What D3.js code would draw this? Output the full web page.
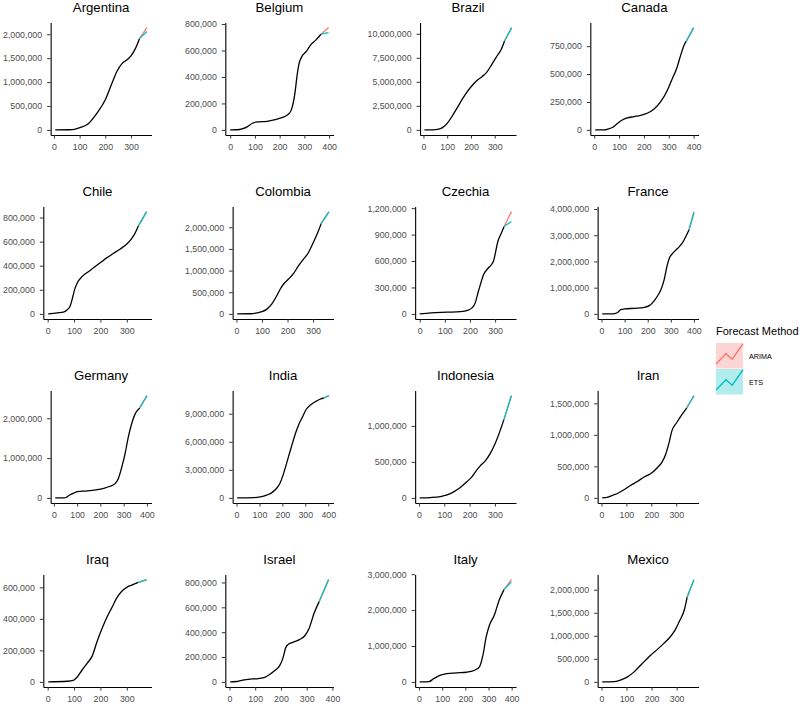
<!DOCTYPE html>
<html><head><meta charset="utf-8">
<script src="https://cdn.jsdelivr.net/npm/d3@7"></script>
<style>body{margin:0;background:#fff}svg{display:block}text{font-family:"Liberation Sans",Arial,sans-serif}</style>
</head><body><svg id="c" width="800" height="704"></svg>
<script>
const countries = ["Argentina","Belgium","Brazil","Canada","Chile","Colombia","Czechia","France",
  "Germany","India","Indonesia","Iran","Iraq","Israel","Italy","Mexico"];

// [day, cumulative cases in thousands]
const histArgentina = [[5,0],[60,3],[80,12],[101,45],[131,118],[169,362],[201,641],[227,990],[246,1233],[265,1387],[282,1456],[300,1547],[317,1700],[333,1909]];
const histBelgium = [[0,0],[30,1],[44,5],[70,25],[90,50],[110,60],[149,65],[182,78],[209,93],[235,118],[248,155],[262,280],[271,418],[279,505],[288,548],[308,593],[328,648],[347,680],[367,723]];
const histBrazil = [[4,0],[40,10],[59,60],[80,240],[100,685],[121,1438],[142,2295],[162,3151],[183,3939],[204,4590],[224,5103],[245,5514],[265,5960],[286,6747],[307,7604],[327,8357],[341,9248]];
const histCanada = [[4,0],[40,1],[53,6],[73,21],[93,57],[113,89],[133,107],[160,119],[187,131],[213,149],[240,185],[267,250],[293,348],[313,452],[333,557],[349,676],[363,765],[371,795]];
const histChile = [[2,0],[37,8],[62,16],[75,36],[85,63],[94,132],[102,201],[112,256],[131,311],[150,344],[175,385],[200,426],[225,467],[250,503],[275,539],[300,580],[319,627],[331,668],[344,731]];
const histColombia = [[3,0],[54,3],[80,21],[100,50],[119,110],[138,226],[158,418],[171,570],[184,684],[203,799],[223,928],[242,1103],[261,1255],[281,1407],[300,1635],[320,1901],[332,2091]];
const histCzechia = [[0,0],[45,11],[110,19],[162,26],[190,40],[208,68],[221,125],[230,219],[241,330],[254,445],[273,521],[293,595],[312,830],[325,917],[336,992]];
const histFrance = [[3,0],[45,1],[57,14],[71,63],[83,164],[100,189],[143,214],[186,252],[207,314],[226,478],[243,692],[257,918],[271,1296],[283,1799],[293,2113],[307,2302],[329,2491],[350,2705],[364,2931],[379,3208]];
const histGermany = [[6,0],[45,2],[52,10],[66,67],[87,125],[101,158],[144,175],[186,208],[214,242],[242,292],[263,358],[277,483],[292,775],[306,1108],[320,1525],[334,1858],[348,2092],[369,2258]];
const histIndia = [[3,0],[74,36],[103,108],[131,287],[153,538],[174,1004],[189,1541],[203,2437],[217,3584],[231,4767],[246,6021],[260,7096],[274,7992],[289,8709],[303,9426],[324,9964],[346,10322],[367,10573],[381,10680]];
const histIndonesia = [[3,0],[46,5],[85,19],[111,42],[137,84],[163,144],[189,223],[209,293],[228,386],[241,442],[261,512],[280,609],[300,749],[319,921],[335,1084]];
const histIran = [[3,0],[26,11],[46,42],[66,74],[92,132],[118,200],[145,263],[171,332],[197,384],[224,479],[243,568],[257,684],[270,858],[283,1068],[303,1200],[322,1316],[342,1426]];
const histIraq = [[2,0],[75,4],[97,10],[112,31],[131,77],[150,119],[169,165],[187,255],[206,339],[225,412],[244,474],[262,533],[281,575],[300,600],[319,614],[344,631]];
const histIsrael = [[3,0],[28,3],[47,13],[73,21],[112,27],[137,37],[156,59],[176,91],[195,131],[208,193],[218,273],[227,300],[246,318],[272,340],[291,367],[310,434],[329,554],[349,648]];
const histItaly = [[3,0],[30,1],[42,5],[64,93],[92,186],[120,232],[163,251],[205,269],[240,325],[261,418],[276,743],[290,1253],[304,1578],[325,1857],[346,2275],[367,2572]];
const histMexico = [[3,0],[52,7],[78,43],[104,108],[130,217],[156,361],[176,469],[196,578],[222,700],[248,830],[274,975],[293,1119],[313,1336],[332,1588],[342,1841]];

// forecast horizon (day) and end values (thousands), per country in the order above
const forecastDay = [362,398,371,400,375,362,365,400,400,403,365,371,375,385,399,369];
const arimaEnd = [2139,773,10640,916,849,2362,1161,3900,2570,10935,1421,1623,649,823,2850,2220];
const etsEnd   = [2056,735,10618,914,847,2358,1048,3849,2567,10931,1419,1621,648,821,2786,2217];

// y tick values (thousands)
const yTicks = [
  [0,500,1000,1500,2000],[0,200,400,600,800],[0,2500,5000,7500,10000],[0,250,500,750],
  [0,200,400,600,800],[0,500,1000,1500,2000],[0,300,600,900,1200],[0,1000,2000,3000,4000],
  [0,1000,2000],[0,3000,6000,9000],[0,500,1000],[0,500,1000,1500],
  [0,200,400,600],[0,200,400,600,800],[0,1000,2000,3000],[0,500,1000,1500,2000]];
const xTickValues = [0,100,200,300,400];

const methods = ["ARIMA","ETS"];
const methodColors = ["#F8766D","#00BFC4"];

const hist = [histArgentina,histBelgium,histBrazil,histCanada,histChile,histColombia,histCzechia,histFrance,
  histGermany,histIndia,histIndonesia,histIran,histIraq,histIsrael,histItaly,histMexico];

const svg = d3.select("#c");
const cellLeft = [1,183,365.5,548];
const fmt = d3.format(",");

countries.forEach((name,i)=>{
  const r = Math.floor(i/4), c = i%4;
  const top = 22.5 + r*184, bottom = top + 112.5;
  const right = cellLeft[c] + 150.5;
  const h = hist[i];
  const last = h[h.length-1];
  const arima = [last,[forecastDay[i],arimaEnd[i]]];
  const ets = [last,[forecastDay[i],etsEnd[i]]];
  const all = h.concat(arima,ets);
  const ymin = d3.min(all,d=>d[1]), ymax = d3.max(all,d=>d[1]);
  const yr = ymax-ymin;
  const y = d3.scaleLinear().domain([(ymin-0.05*yr)*1000,(ymax+0.05*yr)*1000]).range([bottom,top]);
  const g = svg.append("g");
  const yAxisG = g.append("g");
  yAxisG.call(d3.axisLeft(y).tickValues(yTicks[i].map(v=>v*1000)).tickFormat(fmt).tickSize(3.5).tickPadding(5).tickSizeOuter(0));
  yAxisG.selectAll("text").attr("font-size",8.8).attr("fill","#4D4D4D").attr("font-family","'Liberation Sans',Arial,sans-serif");
  let W = 0;
  yAxisG.selectAll("text").each(function(){W=Math.max(W,this.getComputedTextLength());});
  const left = cellLeft[c] + 1 + W + 9.5;
  yAxisG.attr("transform",`translate(${left},0)`);
  const xmin = d3.min(all,d=>d[0]), xmax = d3.max(all,d=>d[0]);
  const xr = xmax-xmin;
  const x = d3.scaleLinear().domain([xmin-0.05*xr,xmax+0.05*xr]).range([left,right]);
  const xAxisG = g.append("g").attr("transform",`translate(0,${bottom})`)
    .call(d3.axisBottom(x).tickValues(xTickValues.filter(v=>v>=x.domain()[0]&&v<=x.domain()[1])).tickFormat(d3.format("d")).tickSize(3.5).tickPadding(5).tickSizeOuter(0));
  xAxisG.selectAll("text").attr("font-size",8.8).attr("fill","#4D4D4D").attr("font-family","'Liberation Sans',Arial,sans-serif");
  [yAxisG,xAxisG].forEach(a=>{
    a.select(".domain").attr("stroke","#000").attr("stroke-width",1.1);
    a.selectAll(".tick line").attr("stroke","#333").attr("stroke-width",1);
  });
  const line = d3.line().x(d=>x(d[0])).y(d=>y(d[1]*1000)).curve(d3.curveMonotoneX);
  g.append("path").datum(h).attr("d",line).attr("fill","none").attr("stroke","#000").attr("stroke-width",1.3);
  g.append("path").datum(arima).attr("d",line).attr("fill","none").attr("stroke",methodColors[0]).attr("stroke-width",1.3);
  g.append("path").datum(ets).attr("d",line).attr("fill","none").attr("stroke",methodColors[1]).attr("stroke-width",1.3);
  g.append("text").attr("x",(left+right)/2).attr("y",top-10.5).attr("text-anchor","middle")
    .attr("font-size",13.2).attr("fill","#000").text(name);
});

// legend
const lg = svg.append("g").attr("transform","translate(716,0)");
lg.append("text").attr("x",0).attr("y",335).attr("font-size",11).attr("fill","#000").text("Forecast Method");
const keyFill = ["#FDD6D3","#B3ECED"];
methods.forEach((m,k)=>{
  const ky = 343 + k*26;
  lg.append("rect").attr("x",0).attr("y",ky).attr("width",27).attr("height",25.5).attr("fill",keyFill[k]);
  const kx = d3.scaleLinear().domain([0,1]).range([0,27]);
  const kyS = d3.scaleLinear().domain([0,1]).range([ky,ky+25.5]);
  const pts = [[0,0.82],[0.37,0.42],[0.6,0.64],[1,0.03]];
  lg.append("path").attr("d",d3.line().x(d=>kx(d[0])).y(d=>kyS(d[1]))(pts))
    .attr("fill","none").attr("stroke",methodColors[k]).attr("stroke-width",1.4);
  lg.append("text").attr("x",33).attr("y",ky+15.5).attr("font-size",7.2).attr("fill","#000").text(m);
});
</script></body></html>
